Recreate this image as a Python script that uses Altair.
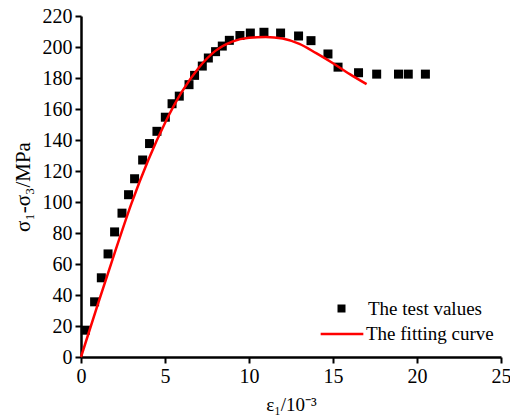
import altair as alt
import pandas as pd

# Test values (strain in 10^-3, deviatoric stress in MPa)
test_x = [0.26, 0.81, 1.21, 1.61, 2.0, 2.44, 2.83, 3.19, 3.67, 4.08, 4.52, 5.02,
          5.42, 5.85, 6.43, 6.76, 7.22, 7.58, 8.01, 8.41, 8.83, 9.46, 10.08,
          10.89, 11.88, 12.95, 13.69, 14.7, 15.3, 16.52, 17.6, 18.9, 19.48, 20.5]
test_y = [17.3, 35.6, 51.1, 66.5, 80.7, 92.8, 104.7, 115.0, 127.1, 137.7, 145.6,
          154.7, 163.4, 168.3, 175.7, 181.7, 187.7, 192.9, 197.0, 200.6, 204.3,
          207.4, 209.0, 209.5, 209.0, 207.1, 204.1, 195.5, 187.0, 183.4, 182.5,
          182.5, 182.5, 182.5]

# Fitting curve
fit_x = [0, 1, 2, 3, 4, 5, 6, 7, 8, 9, 10, 11, 12, 13, 14, 15, 16, 17]
fit_y = [0, 34, 67, 99, 127, 151, 171, 186.5, 197.5, 203.5, 206, 206.5, 205.5,
         202, 196, 189.5, 182.5, 176]

x_ticks = [0, 5, 10, 15, 20, 25]
y_ticks = [0, 20, 40, 60, 80, 100, 120, 140, 160, 180, 200, 220]

FONT = "Times New Roman, Liberation Serif, serif"

test_df = pd.DataFrame({"strain": test_x, "stress": test_y,
                        "series": ["The test values"] * len(test_x)})
fit_df = pd.DataFrame({"strain": fit_x, "stress": fit_y,
                       "series": ["The fitting curve"] * len(fit_x)})

xscale = alt.Scale(domain=[0, 25], nice=False, zero=False)
yscale = alt.Scale(domain=[0, 220], nice=False, zero=False)

xaxis = alt.Axis(title="ε₁/10⁻³", values=x_ticks, grid=False, labelFlush=False,
                 domainColor="black", domainWidth=2.5, tickColor="black",
                 tickWidth=2, tickSize=6, labelPadding=3, labelColor="black",
                 labelFont=FONT, labelFontSize=20, titleFont=FONT,
                 titleFontSize=19, titleFontWeight="normal", titleColor="black",
                 titlePadding=9)
yaxis = alt.Axis(title="σ₁-σ₃/MPa", values=y_ticks, grid=False, labelFlush=False,
                 domainColor="black", domainWidth=2.5, tickColor="black",
                 tickWidth=2, tickSize=6, labelPadding=3, labelColor="black",
                 labelFont=FONT, labelFontSize=20, titleFont=FONT,
                 titleFontSize=21, titleFontWeight="normal", titleColor="black",
                 titlePadding=9)

points = alt.Chart(test_df).mark_square(size=81, opacity=1, filled=True).encode(
    x=alt.X("strain:Q", scale=xscale, axis=xaxis),
    y=alt.Y("stress:Q", scale=yscale, axis=yaxis),
    color=alt.Color("series:N",
                    scale=alt.Scale(domain=["The test values"], range=["black"]),
                    legend=alt.Legend(title=None, orient="none", legendX=251,
                                      legendY=283, padding=0, symbolType="square",
                                      symbolSize=64, symbolOpacity=1,
                                      labelFont=FONT, labelFontSize=19,
                                      labelColor="black", labelOffset=17)),
)

line = alt.Chart(fit_df).mark_line(strokeWidth=2.5, interpolate="monotone").encode(
    x=alt.X("strain:Q", scale=xscale, axis=xaxis),
    y=alt.Y("stress:Q", scale=yscale, axis=yaxis),
    color=alt.Color("series:N",
                    scale=alt.Scale(domain=["The fitting curve"], range=["red"]),
                    legend=alt.Legend(title=None, orient="none", legendX=238,
                                      legendY=295, padding=0, symbolType="stroke",
                                      symbolSize=1820, symbolStrokeWidth=2.5,
                                      labelFont=FONT, labelFontSize=19,
                                      labelColor="black", labelOffset=1)),
)

chart = alt.layer(points, line).resolve_scale(color="independent").properties(
    width=420, height=341,
    autosize=alt.AutoSizeParams(type="none"),
    padding={"left": 81, "top": 16, "right": 9, "bottom": 62},
    background="white",
).configure_view(stroke=None)

chart.save("out.html", embed_options={"renderer": "svg", "actions": False})
